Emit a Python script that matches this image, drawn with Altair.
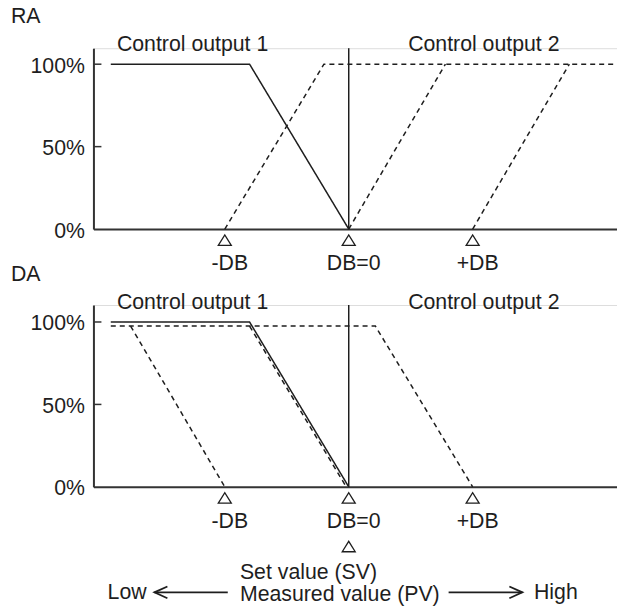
import altair as alt
import pandas as pd

FONT = "Liberation Sans"
INK = "#1e1e1e"
AXIS = "#333333"
FS = 21.3

# ---------------- data (x in dead-band units, y in % output) ----------------
XMIN, XMAX = -2.06, 2.205

ra_out1_x = [-1.92, -0.80, 0.00]
ra_out1_y = [100, 100, 0]
ra_neg_x = [-1.00, -0.20, 2.18]
ra_neg_y = [0, 100, 100]
ra_zero_x = [0.00, 0.78]
ra_zero_y = [0, 100]
ra_pos_x = [1.00, 1.78]
ra_pos_y = [0, 100]

da_out1_x = [-1.92, -0.80, 0.00]
da_out1_y = [100, 100, 0]
da_neg_x = [-1.76, -1.00]
da_neg_y = [97.5, 0]
da_zero_x = [-0.80, -0.02]
da_zero_y = [97.5, 0]
da_pos_x = [-1.92, 0.215, 1.00]
da_pos_y = [97.5, 97.5, 0]

db_marks = [-1, 0, 1]
db_labels = ["-DB", "DB=0", "+DB"]
y_ticks = [0, 50, 100]
inner_ticks = [50, 100]
output_names = ["Control output 1", "Control output 2"]
output_x = [-1.26, 1.09]

TRI = "M-1,0.8L0,-0.8L1,0.8Z"
CHEV_L = "M2,-0.9L0,0L2,0.9"
CHEV_R = "M-2,-0.9L0,0L-2,0.9"


def lines_df(series):
    rows = []
    for name, style, xs, ys in series:
        for i, (x, y) in enumerate(zip(xs, ys)):
            rows.append(dict(x=x, y=y, s=name, style=style, o=i))
    return pd.DataFrame(rows)


def encs(ymax):
    xenc = alt.X(
        "x:Q",
        scale=alt.Scale(domain=[XMIN, XMAX], nice=False, zero=False),
        axis=alt.Axis(labels=False, ticks=False, grid=False, title=None,
                      domainColor=AXIS, domainWidth=2),
    )
    yenc = alt.Y(
        "y:Q",
        scale=alt.Scale(domain=[0, ymax], nice=False, zero=False),
        axis=alt.Axis(values=y_ticks, labelExpr="datum.value + '%'", ticks=False,
                      grid=False, title=None, domainColor=AXIS, domainWidth=2,
                      labelFont=FONT, labelFontSize=FS, labelColor=INK,
                      labelPadding=9, labelOffset=2),
    )
    return xenc, yenc


def text_layer(df, xenc, yenc, align="center", dx=0):
    return alt.Chart(df).mark_text(
        font=FONT, fontSize=FS, color=INK, align=align, baseline="alphabetic", dx=dx
    ).encode(x=xenc, y=yenc, text="t:N")


def panel(tag, series, height, ymax, bottom=False):
    xenc, yenc = encs(ymax)
    layers = []
    layers.append(
        alt.Chart(lines_df(series)).mark_line(color=INK, strokeWidth=1.5).encode(
            x=xenc, y=yenc, detail="s:N", order="o:Q",
            strokeDash=alt.StrokeDash("style:N", scale=alt.Scale(
                domain=["solid", "dashed"], range=[[1, 0], [5, 4]]), legend=None),
        )
    )
    # vertical line at DB=0
    layers.append(
        alt.Chart(pd.DataFrame({"x": [0], "y": [0], "y2": [ymax]})).mark_rule(
            color=INK, strokeWidth=1.5).encode(x=xenc, y=yenc, y2="y2:Q")
    )
    # inward ticks
    layers.append(
        alt.Chart(pd.DataFrame({"y": inner_ticks})).mark_rule(
            color=AXIS, strokeWidth=1.5).encode(y=yenc, x=alt.value(0), x2=alt.value(8))
    )
    # triangles & labels under the axis
    layers.append(
        alt.Chart(pd.DataFrame({"x": db_marks, "y": [-6.7] * 3})).mark_point(
            shape=TRI, filled=False, size=169, strokeWidth=1.3, color=INK, opacity=1
        ).encode(x=xenc, y=yenc)
    )
    layers.append(text_layer(pd.DataFrame({"x": db_marks, "y": [-25] * 3, "t": db_labels}),
                             xenc, yenc, dx=5))
    # output titles
    layers.append(text_layer(pd.DataFrame({"x": output_x, "y": [108] * 2, "t": output_names}),
                             xenc, yenc))
    # panel tag
    layers.append(text_layer(pd.DataFrame({"x": [-2.725], "y": [124.8], "t": [tag]}),
                             xenc, yenc, align="left"))
    if bottom:
        layers.append(
            alt.Chart(pd.DataFrame({"x": [0], "y": [-36.2]})).mark_point(
                shape=TRI, filled=False, size=169, strokeWidth=1.3, color=INK, opacity=1
            ).encode(x=xenc, y=yenc)
        )
        layers.append(text_layer(pd.DataFrame({"x": [-0.878, -0.878], "y": [-55.6, -69.4],
                                               "t": ["Set value (SV)", "Measured value (PV)"]}),
                                 xenc, yenc, align="left"))
        layers.append(text_layer(pd.DataFrame({"x": [-1.946, 1.495], "y": [-68.0, -68.0],
                                               "t": ["Low", "High"]}),
                                 xenc, yenc, align="left"))
        arrows = pd.DataFrame({"x": [-1.568, 0.806], "x2": [-0.976, 1.401], "y": [-64.0, -64.0]})
        layers.append(
            alt.Chart(arrows).mark_rule(color=INK, strokeWidth=1.8).encode(
                x=xenc, x2="x2:Q", y=yenc)
        )
        layers.append(
            alt.Chart(pd.DataFrame({"x": [-1.568], "y": [-64.0]})).mark_point(
                shape=CHEV_L, filled=False, size=169, strokeWidth=1.8, color=INK, opacity=1
            ).encode(x=xenc, y=yenc)
        )
        layers.append(
            alt.Chart(pd.DataFrame({"x": [1.401], "y": [-64.0]})).mark_point(
                shape=CHEV_R, filled=False, size=169, strokeWidth=1.8, color=INK, opacity=1
            ).encode(x=xenc, y=yenc)
        )
    return alt.layer(*layers).properties(width=529, height=height)


ra_series = [
    ("out1", "solid", ra_out1_x, ra_out1_y),
    ("neg", "dashed", ra_neg_x, ra_neg_y),
    ("zero", "dashed", ra_zero_x, ra_zero_y),
    ("pos", "dashed", ra_pos_x, ra_pos_y),
]
da_series = [
    ("out1", "solid", da_out1_x, da_out1_y),
    ("neg", "dashed", da_neg_x, da_neg_y),
    ("zero", "dashed", da_zero_x, da_zero_y),
    ("pos", "dashed", da_pos_x, da_pos_y),
]

top = panel("RA", ra_series, 181, 181 / 1.65)
bot = panel("DA", da_series, 182, 182 / 1.65, bottom=True)

chart = alt.vconcat(top, bot, spacing=76, bounds="flush").properties(
    padding={"left": 2.5, "top": -3, "right": -6, "bottom": -1}
).configure_view(stroke=None).configure(background="white")

chart.save("out.html", embed_options={"renderer": "svg", "actions": False})
